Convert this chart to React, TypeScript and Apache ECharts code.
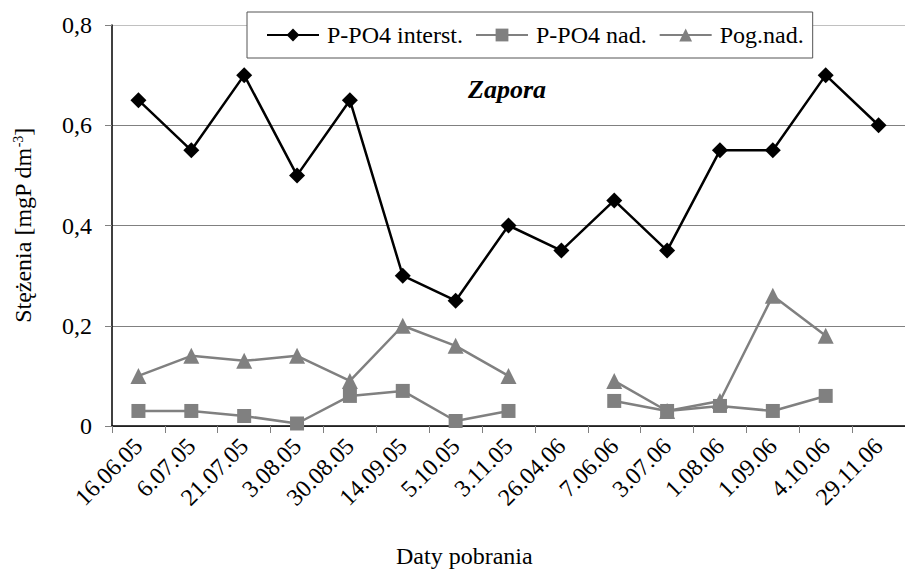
import React, { useEffect, useRef } from "react";
import * as echarts from "echarts";

const categories = ["16.06.05", "6.07.05", "21.07.05", "3.08.05", "30.08.05", "14.09.05", "5.10.05", "3.11.05", "26.04.06", "7.06.06", "3.07.06", "1.08.06", "1.09.06", "4.10.06", "29.11.06"];
const interst = [0.65, 0.55, 0.7, 0.5, 0.65, 0.3, 0.25, 0.4, 0.35, 0.45, 0.35, 0.55, 0.55, 0.7, 0.6];
const nad = [0.03, 0.03, 0.02, 0.005, 0.06, 0.07, 0.01, 0.03, null, 0.05, 0.03, 0.04, 0.03, 0.06, null];
const pog = [0.1, 0.14, 0.13, 0.14, 0.09, 0.2, 0.16, 0.1, null, 0.09, 0.03, 0.05, 0.26, 0.18, null];

const FONT = "Liberation Serif";

export default function App() {
  const ref = useRef<HTMLDivElement>(null);
  useEffect(() => {
    const chart = echarts.init(ref.current!, null, { renderer: "svg" });
    chart.setOption({
      animation: false,
      backgroundColor: "#fff",
      textStyle: { fontFamily: FONT, color: "#000" },
      grid: { left: 112, right: 0, top: 25, bottom: 148, containLabel: false },
      legend: {
        left: 247,
        top: 12,
        padding: [11, 9, 11, 19],
        borderColor: "#555",
        borderWidth: 1,
        backgroundColor: "#fff",
        itemWidth: 52,
        itemHeight: 16,
        itemGap: 12,
        textStyle: { fontFamily: FONT, fontSize: 24, color: "#000", padding: [0, 0, 0, 3] },
        data: ["P-PO4 interst.", "P-PO4 nad.", "Pog.nad."],
      },
      graphic: [
        {
          type: "text",
          left: 468,
          top: 76,
          style: { text: "Zapora", font: "italic bold 26px Liberation Serif", fill: "#000" },
        },
        {
          type: "text",
          left: 396,
          top: 544,
          style: { text: "Daty pobrania", font: "24px Liberation Serif", fill: "#000" },
        },
      ],
      xAxis: {
        type: "category",
        data: categories,
        boundaryGap: true,
        axisLine: { lineStyle: { color: "#000", width: 1.5 } },
        axisTick: { show: true, length: 7, lineStyle: { color: "#808080" } },
        axisLabel: { rotate: 45, fontSize: 24, color: "#000", fontFamily: FONT, margin: 16, interval: 0 },
        splitLine: { show: false },
      },
      yAxis: {
        type: "value",
        min: 0,
        max: 0.8,
        interval: 0.2,
        name: "{a|Stężenia [mgP dm}{s|-3}{a|]}",
        nameLocation: "middle",
        nameGap: 77,
        nameRotate: 90,
        nameTextStyle: {
          rich: {
            a: { fontFamily: FONT, fontSize: 24, color: "#000" },
            s: { fontFamily: FONT, fontSize: 14, color: "#000", verticalAlign: "top", padding: [0, 0, 10, 0] },
          },
        },
        axisLine: { show: true, lineStyle: { color: "#000", width: 1.5 } },
        axisTick: { show: true, length: 7, lineStyle: { color: "#808080" } },
        axisLabel: {
          fontSize: 24,
          color: "#000",
          fontFamily: FONT,
          margin: 20,
          formatter: (v: number) => (v === 0 ? "0" : v.toFixed(1).replace(".", ",")),
        },
        splitLine: { show: true, lineStyle: { color: ["#808080", "#808080", "#808080", "#808080", "#c0c0c0"], width: 1 } },
      },
      series: [
        {
          name: "P-PO4 interst.",
          type: "line",
          data: interst,
          symbol: "diamond",
          symbolSize: 16,
          itemStyle: { color: "#000" },
          lineStyle: { color: "#000", width: 2.5 },
          z: 3,
        },
        {
          name: "P-PO4 nad.",
          type: "line",
          data: nad,
          symbol: "rect",
          symbolSize: 14,
          connectNulls: false,
          itemStyle: { color: "#808080" },
          lineStyle: { color: "#808080", width: 2.5 },
        },
        {
          name: "Pog.nad.",
          type: "line",
          data: pog,
          symbol: "triangle",
          symbolSize: 16,
          connectNulls: false,
          itemStyle: { color: "#808080" },
          lineStyle: { color: "#808080", width: 2.5 },
        },
      ],
    });
    return () => chart.dispose();
  }, []);
  return <div ref={ref} style={{ width: 905, height: 574, position: "absolute", left: 0, top: 0 }} />;
}
